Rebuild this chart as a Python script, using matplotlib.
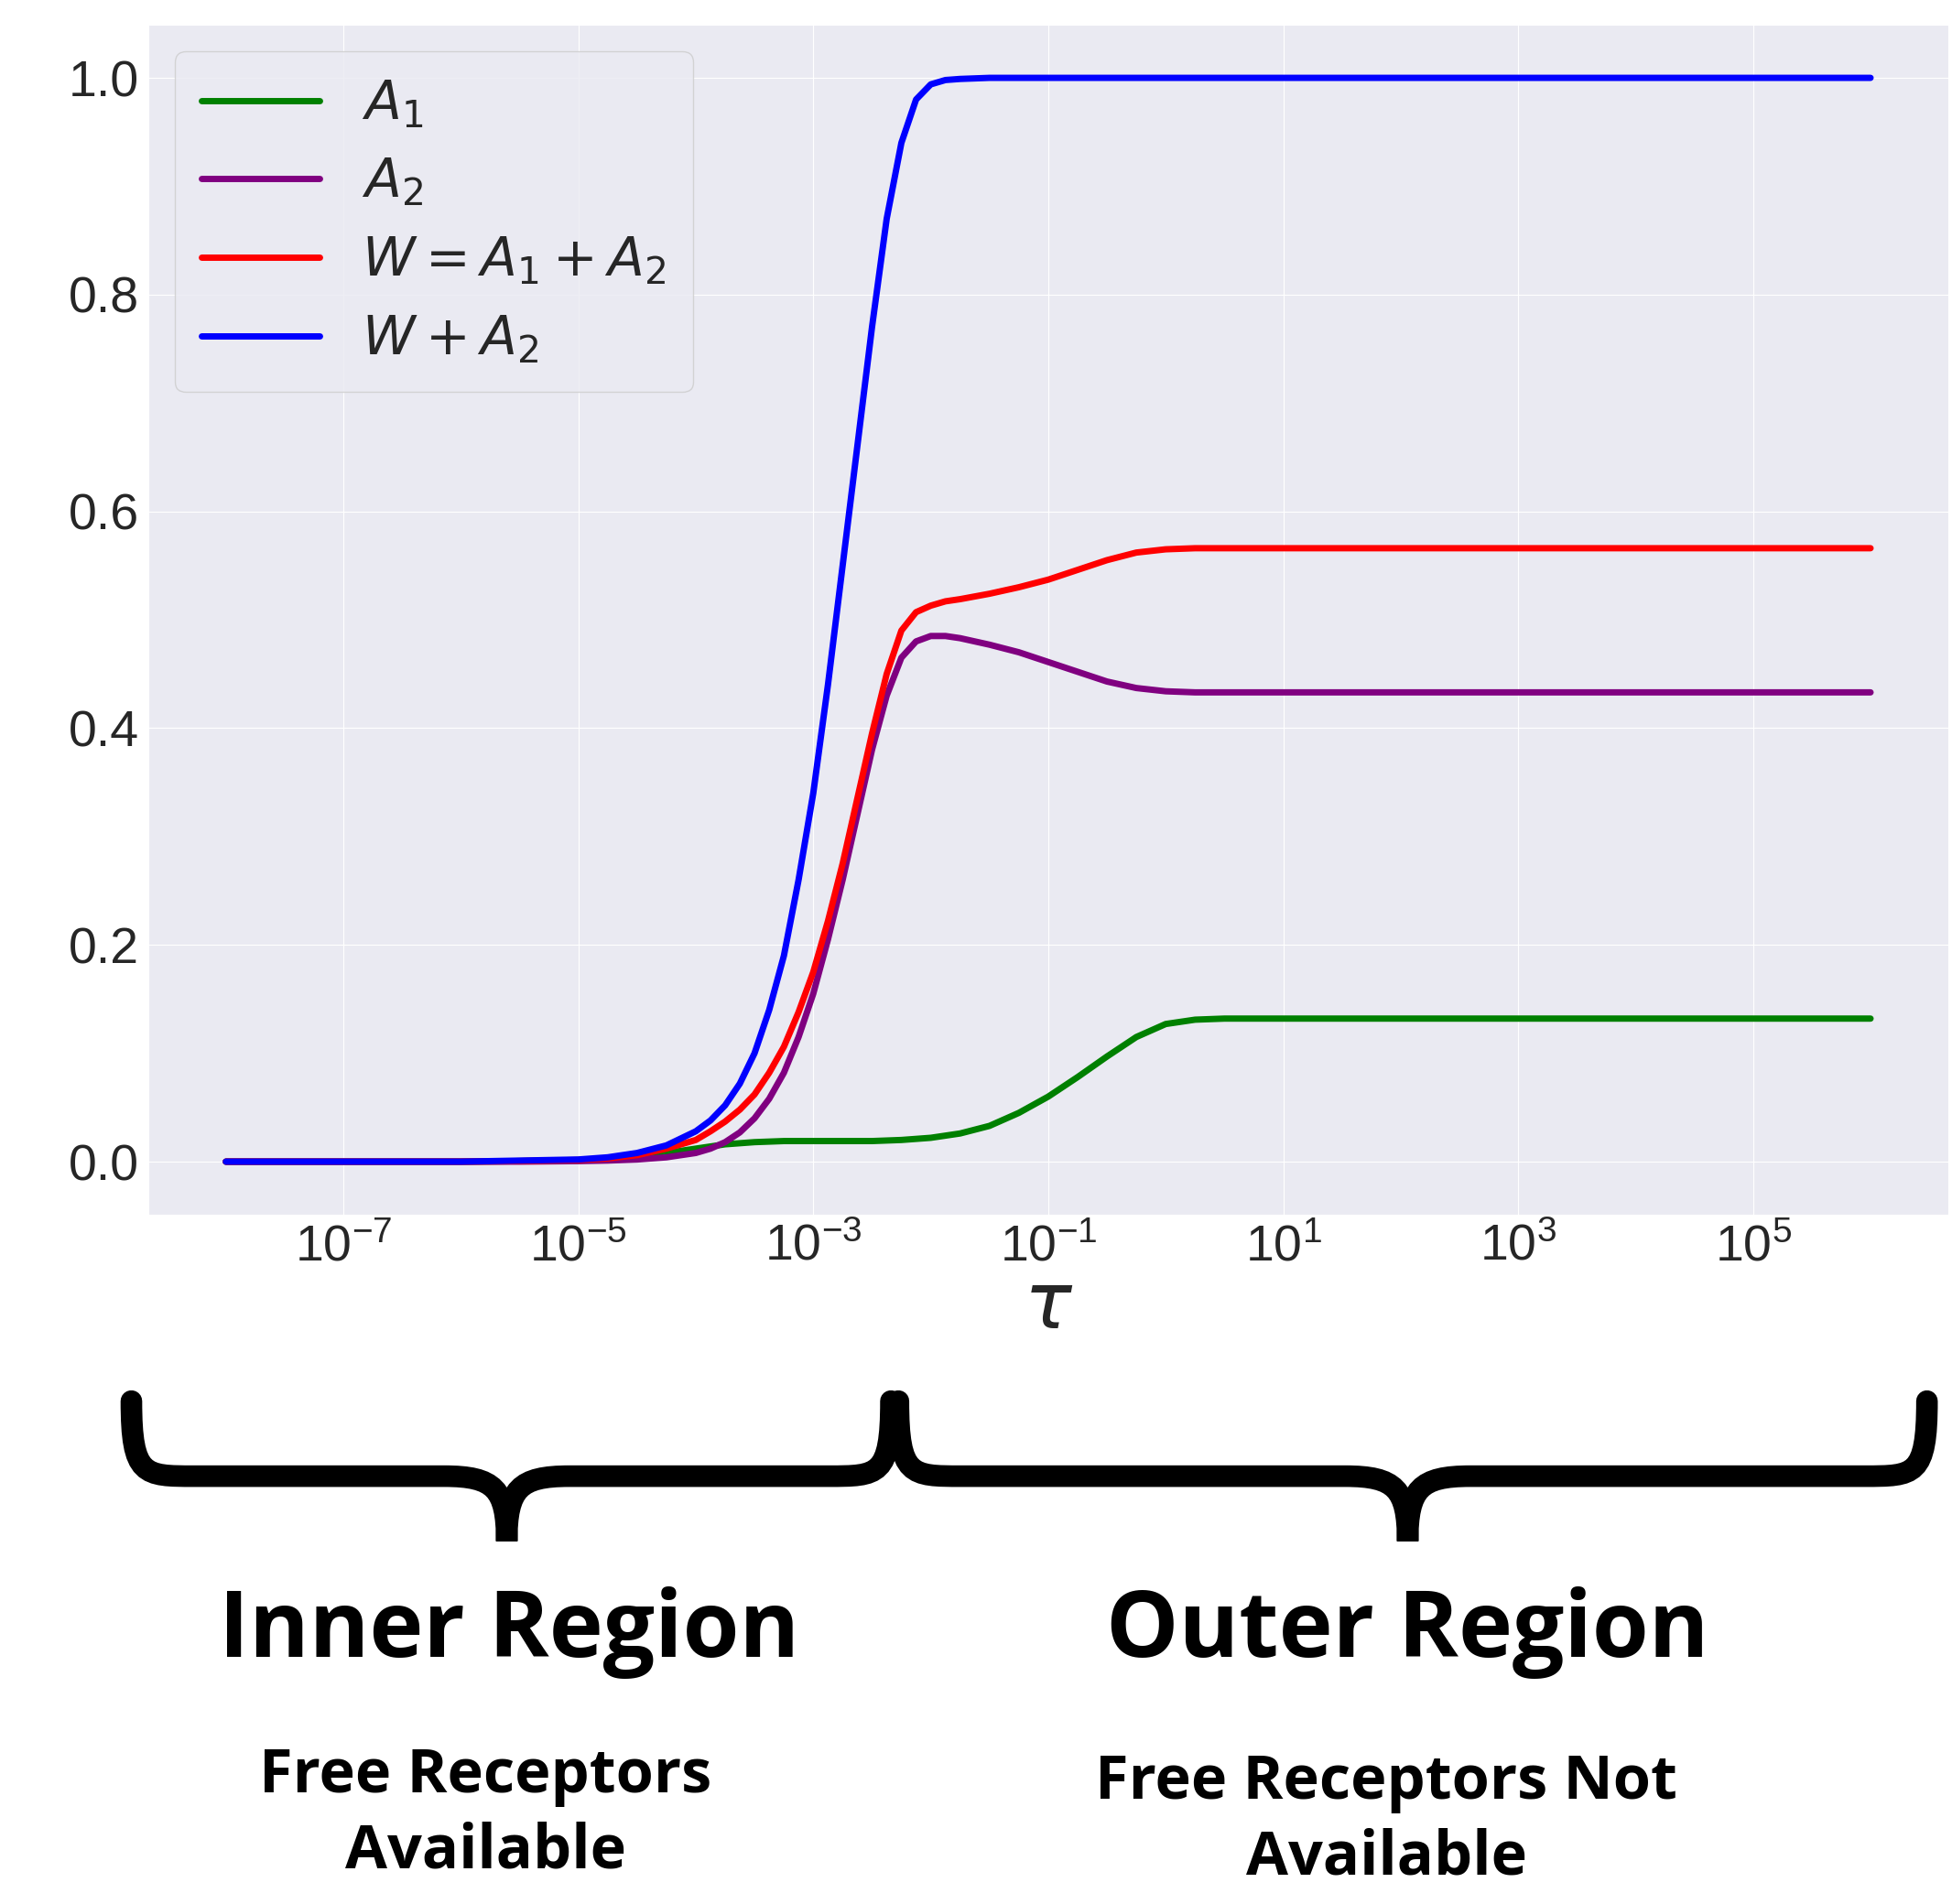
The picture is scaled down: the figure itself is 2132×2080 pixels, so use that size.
import matplotlib
matplotlib.use('Agg')
import matplotlib.pyplot as plt
import seaborn as sns
import numpy as np
from matplotlib.path import Path
from matplotlib.patches import PathPatch

sns.set_style('darkgrid')
plt.rcParams['font.family'] = ['Liberation Sans', 'DejaVu Sans']

# log10(tau) sample points
log_tau = [-8, -7, -6, -5.5, -5, -4.75, -4.5, -4.25, -4, -3.875, -3.75, -3.625, -3.5, -3.375, -3.25,
           -3.125, -3, -2.875, -2.75, -2.625, -2.5, -2.375, -2.25, -2.125, -2, -1.875, -1.75,
           -1.5, -1.25, -1, -0.75, -0.5, -0.25, 0, 0.25, 0.5, 1, 2, 3, 4, 5, 6]
a1 = [0, 0, 0, 0.0005, 0.001, 0.002, 0.004, 0.008, 0.012, 0.014, 0.016, 0.017, 0.018, 0.0185, 0.019,
      0.019, 0.019, 0.019, 0.019, 0.019, 0.019, 0.0195, 0.02, 0.021, 0.022, 0.024, 0.026,
      0.033, 0.045, 0.06, 0.078, 0.097, 0.115, 0.127, 0.131, 0.132, 0.132, 0.132, 0.132, 0.132, 0.132, 0.132]
a2 = [0, 0, 0, 0, 0.0005, 0.001, 0.002, 0.004, 0.008, 0.012, 0.018, 0.027, 0.04, 0.058, 0.082,
      0.115, 0.155, 0.205, 0.26, 0.32, 0.38, 0.43, 0.465, 0.48, 0.485, 0.485, 0.483,
      0.477, 0.47, 0.461, 0.452, 0.443, 0.437, 0.434, 0.433, 0.433, 0.433, 0.433, 0.433, 0.433, 0.433, 0.433]
w = [0, 0, 0, 0.0005, 0.0015, 0.003, 0.006, 0.012, 0.02, 0.028, 0.037, 0.048, 0.062, 0.082, 0.106,
     0.138, 0.175, 0.222, 0.275, 0.335, 0.395, 0.45, 0.49, 0.507, 0.513, 0.517, 0.519,
     0.524, 0.53, 0.537, 0.546, 0.555, 0.562, 0.565, 0.566, 0.566, 0.566, 0.566, 0.566, 0.566, 0.566, 0.566]
w_a2 = [0, 0, 0, 0.001, 0.002, 0.004, 0.008, 0.015, 0.028, 0.038, 0.052, 0.072, 0.1, 0.14, 0.19,
        0.26, 0.34, 0.44, 0.55, 0.66, 0.77, 0.87, 0.94, 0.98, 0.994, 0.998, 0.999,
        1.0, 1.0, 1.0, 1.0, 1.0, 1.0, 1.0, 1.0, 1.0, 1.0, 1.0, 1.0, 1.0, 1.0, 1.0]
labels = ['$A_1$', '$A_2$', '$W = A_1 + A_2$', '$W + A_2$']
colors = ['green', 'purple', 'red', 'blue']

tau = 10.0 ** np.array(log_tau)

fig = plt.figure(figsize=(21.32, 20.8), dpi=100)
ax = fig.add_axes([0.076, 0.362, 0.922, 0.625])
for ys, lab, c in zip([a1, a2, w, w_a2], labels, colors):
    ax.plot(tau, ys, color=c, lw=5, label=lab)
ax.set_xscale('log')
ax.set_xlim(10 ** -8.66, 10 ** 6.66)
ax.set_ylim(-0.049, 1.049)
ax.set_xticks([1e-7, 1e-5, 1e-3, 1e-1, 1e1, 1e3, 1e5])
ax.minorticks_off()
ax.tick_params(labelsize=40)
ax.set_xlabel(r'$\tau$', fontsize=62, labelpad=0)
ax.legend(loc='upper left', fontsize=42, handlelength=2.2, borderpad=0.5)

# curly braces below the axes, drawn in normalized figure coordinates
W_, H_ = 1560.0, 1522.0


def brace(x0, x1, xt):
    ytop, ymid, ytip = 1120, 1180, 1232
    r = 50
    pts = [(x0, ytop), (x0, ymid), (x0 + r * 0.2, ymid), (x0 + r, ymid),
           (xt - r, ymid),
           (xt - 10, ymid), (xt, ymid + 10), (xt, ytip),
           (xt, ymid + 10), (xt + 10, ymid), (xt + r, ymid),
           (x1 - r, ymid),
           (x1 - r * 0.2, ymid), (x1, ymid), (x1, ytop)]
    codes = [Path.MOVETO, Path.CURVE4, Path.CURVE4, Path.CURVE4, Path.LINETO,
             Path.CURVE4, Path.CURVE4, Path.CURVE4, Path.CURVE4, Path.CURVE4, Path.CURVE4,
             Path.LINETO, Path.CURVE4, Path.CURVE4, Path.CURVE4]
    verts = [(x / W_, 1 - y / H_) for x, y in pts]
    fig.add_artist(PathPatch(Path(verts, codes), transform=fig.transFigure,
                             fill=False, lw=17, color='black', capstyle='round'))


brace(105, 712, 405)
brace(718, 1540, 1125)

fk = dict(family='Open Sans', weight='bold', ha='center', va='center', color='black')
fig.text(407 / W_, 1 - 1305 / H_, 'Inner Region', fontsize=72, **fk)
fig.text(1125 / W_, 1 - 1305 / H_, 'Outer Region', fontsize=72, **fk)
fig.text(388 / W_, 1 - 1450 / H_, 'Free Receptors\nAvailable', fontsize=48, linespacing=1.3, **fk)
fig.text(1108 / W_, 1 - 1455 / H_, 'Free Receptors Not\nAvailable', fontsize=48, linespacing=1.3, **fk)

fig.savefig('out.png', dpi=100)
